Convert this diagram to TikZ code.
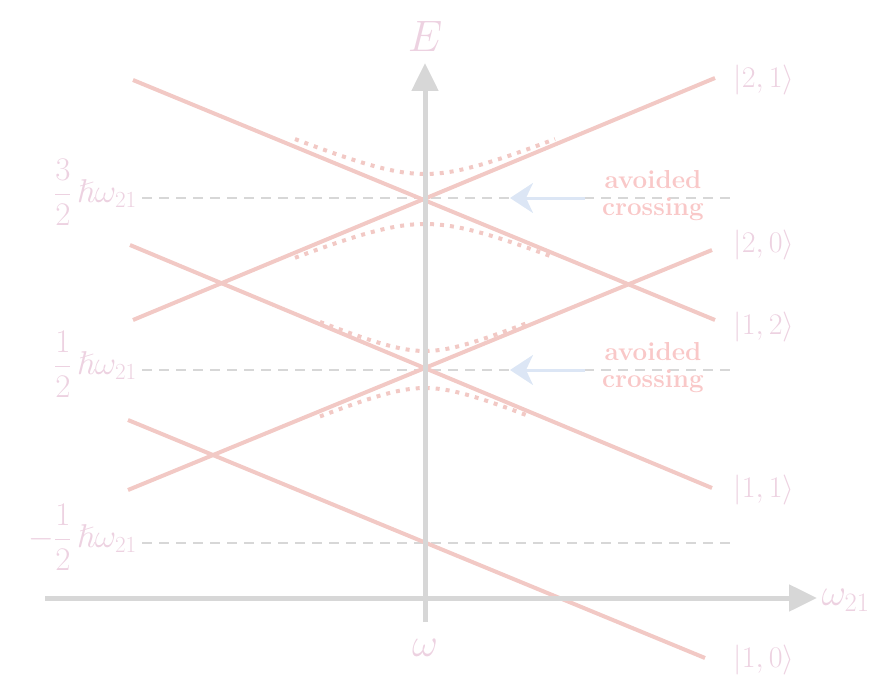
\RequirePackage{fix-cm}
\documentclass[tikz,border=0pt]{standalone}
\usepackage{amsmath,amssymb}
\usepackage{xcolor}
\usepackage{tikz}
\usetikzlibrary{arrows.meta,positioning}
\definecolor{lvlpink}{HTML}{F2C9C5}
\definecolor{labpink}{HTML}{EDD2E1}
\definecolor{axgray}{HTML}{D7D7D7}
\definecolor{arrblue}{HTML}{DCE6F5}
\definecolor{txtpink}{HTML}{F9C8C8}

\begin{document}
\begin{tikzpicture}[x=1pt,y=-1pt,
  level/.style={lvlpink,line width=4pt},
  avoid/.style={lvlpink,line width=4pt,dash pattern=on 4pt off 6pt},
  guide/.style={axgray,line width=2pt,dash pattern=on 10pt off 7pt},
  axis/.style={axgray,line width=5pt,-{Triangle[length=28pt,width=26pt]}},
  ketlab/.style={labpink,anchor=west,font=\fontsize{30}{32}\selectfont},
  enlab/.style={labpink,anchor=east,inner sep=1pt,font=\fontsize{33}{36}\selectfont},
  note/.style={txtpink,align=center,font=\fontsize{26}{27}\selectfont\bfseries}]
  \useasboundingbox (0,0) rectangle (881,682);
  % energy guides
  \foreach \n/\y/\lab in {hi/198/{\frac{3}{2}},mid/370/{\frac{1}{2}},lo/543/{-\frac{1}{2}}} {
    \node[enlab] (h\n) at (138,\y-6) {$\displaystyle\lab\,\hslash\omega_{21}$};
    \coordinate (g\n) at (737,\y);
    \draw[guide] (h\n.east |- g\n) ++(4,0) -- (g\n);
  }
  % levels
  \foreach \n/\xa/\ya/\xb/\yb/\ky/\lab in {a/133/320/715/78/80/{2,1},b/133/80/715/320/327/{1,2},c/130/245/712/488/490/{1,1},d/128/490/712/250/245/{2,0},e/128/420/705/658/660/{1,0}} {
    \coordinate (s\n) at (\xa,\ya);
    \coordinate (e\n) at (\xb,\yb);
    \node[ketlab] (k\n) at (730,\ky) {$|\lab\rangle$};
    \draw[level] (s\n) -- (e\n);
  }
  % avoided crossings
  \draw[avoid] plot[domain=-130:130,samples=40] ({425+\x},{198-sqrt(576+(0.414*\x)^2)});
  \draw[avoid] plot[domain=-130:130,samples=40] ({425+\x},{198+sqrt(676+(0.414*\x)^2)});
  \draw[avoid] plot[domain=-105:105,samples=40] ({425+\x},{369-sqrt(324+(0.414*\x)^2)});
  \draw[avoid] plot[domain=-105:105,samples=40] ({425+\x},{369+sqrt(361+(0.414*\x)^2)});
  % axes
  \coordinate (xs) at (45,598);
  \coordinate (xe) at (817,598);
  \coordinate (ys) at (425,622);
  \coordinate (ye) at (425,63);
  \draw[axis] (xs) -- (xe);
  \draw[axis] (ys) -- (ye);
  \node[labpink,font=\fontsize{44}{46}\selectfont] (elab) at (425,36) {$E$};
  \node[labpink,font=\fontsize{40}{42}\selectfont] (wlab) at (425,648) {$\omega$};
  \node[labpink,anchor=west,font=\fontsize{38}{40}\selectfont] (wxlab) at (818,600) {$\omega_{21}$};
  % notes
  \foreach \n/\y in {hi/198,mid/370} {
    \node[note] (c\n) at (653,\y-2) {avoided\\crossing};
    \coordinate (t\n) at (585,\y);
    \coordinate (p\n) at (510,\y);
    \draw[arrblue,line width=3pt,-{Stealth[length=23pt,width=30pt,inset=7pt]}] (t\n) -- (p\n);
  }
\end{tikzpicture}
\end{document}
